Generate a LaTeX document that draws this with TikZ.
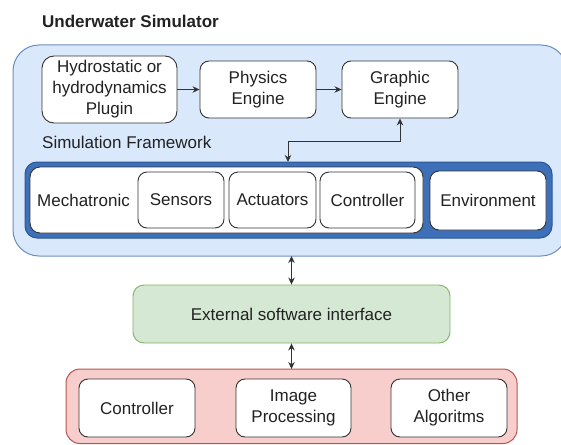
\documentclass[tikz,border=0pt]{standalone}
\usepackage{fontspec}
\setmainfont{Liberation Sans}
\usetikzlibrary{arrows.meta}
\definecolor{txt}{HTML}{222222}
\definecolor{edge}{HTML}{333333}
\definecolor{simfill}{HTML}{DAE8FC}
\definecolor{simdraw}{HTML}{6C8EBF}
\definecolor{barfill}{HTML}{3D70B8}
\definecolor{bardraw}{HTML}{2C5593}
\definecolor{ifill}{HTML}{D5E8D4}
\definecolor{idraw}{HTML}{82B366}
\definecolor{afill}{HTML}{F8CECC}
\definecolor{adraw}{HTML}{B85450}
\tikzset{
  box/.style={draw=edge, fill=white, line width=0.9pt, rounded corners=9pt,
    minimum width=#1, inner sep=0pt, align=center, text=txt,
    font=\fontsize{17}{21}\selectfont},
  tip/.tip={Stealth[length=7pt,width=6.5pt]},
  arr/.style={draw=edge, line width=0.9pt, -tip},
  darr/.style={draw=edge, line width=0.9pt, tip-tip},
  plain/.style={text=txt, font=\fontsize{17}{21}\selectfont, inner sep=0pt},
}
\begin{document}
\begin{tikzpicture}[x=1pt, y=-1pt]
\useasboundingbox (0,0) rectangle (561,444);
\begin{scope}
\clip (0,0) rectangle (561,444);

% title
\node[plain, font=\fontsize{17}{21}\selectfont\bfseries, anchor=base west] (title) at (42,28) {Underwater Simulator};

% simulation framework container
\draw[fill=simfill, draw=simdraw, line width=1pt, rounded corners=26pt] (13,45) rectangle (567,256);
\coordinate (simbottom) at (291.5,256);

\node[box, minimum width=135pt, minimum height=67pt, rounded corners=12pt] (hydro) at (109.5,89.5)
  {Hydrostatic or\\hydrodynamics\\Plugin};
\node[box, minimum width=116pt, minimum height=57pt] (physics) at (258,89.5) {Physics\\Engine};
\node[box, minimum width=116pt, minimum height=57pt] (graphic) at (400,89.5) {Graphic\\Engine};

\draw[arr] (hydro.east |- physics.west) -- (physics.west);
\draw[arr] (physics.east) -- (graphic.west);

\node[plain, anchor=west] (simlabel) at (42,142) {Simulation Framework};

% components bar
\draw[fill=barfill, draw=bardraw, line width=1pt, rounded corners=12pt] (25,162) rectangle (552,238);
\coordinate (bartop) at (288,162);
\draw[fill=white, draw=edge, line width=0.9pt, rounded corners=10pt] (30,167) rectangle (423,233);
\node[plain] (mech) at (83.5,200) {Mechatronic};
\node[box, minimum width=86pt, minimum height=56pt] (sensors) at (181,200) {Sensors};
\node[box, minimum width=87pt, minimum height=56pt] (actuators) at (272.5,200) {Actuators};
\node[box, minimum width=95pt, minimum height=56pt] (controller) at (367.5,200) {Controller};
\node[box, minimum width=116pt, minimum height=59pt] (env) at (488,200.5) {Environment};

\draw[darr] (bartop) -- (288,141) -| (graphic.south);

% external interface
\node[box, draw=idraw, fill=ifill, minimum width=317pt, minimum height=58pt, rounded corners=11pt] (iface) at (291.5,314)
  {External software interface};
\draw[darr] (simbottom) -- (iface.north);

% applications
\draw[fill=afill, draw=adraw, line width=1pt, rounded corners=14pt] (66,369) rectangle (517,443.5);
\coordinate (apptop) at (291.5,369);
\draw[darr] (iface.south) -- (apptop);
\node[box, minimum width=116pt, minimum height=58pt] (ctrl) at (137,408) {Controller};
\node[box, minimum width=115pt, minimum height=58pt] (img) at (293.5,408) {Image\\Processing};
\node[box, minimum width=116pt, minimum height=58pt] (other) at (449,408) {Other\\Algoritms};
\end{scope}
\end{tikzpicture}
\end{document}
